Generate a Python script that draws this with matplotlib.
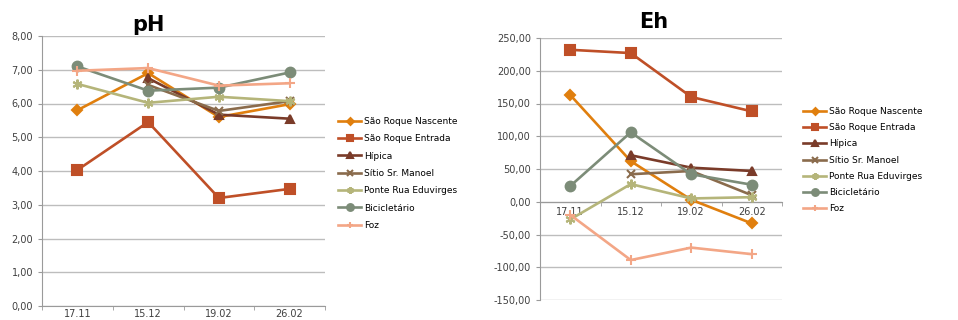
import numpy as np
import matplotlib
matplotlib.use("Agg")
import matplotlib.pyplot as plt
from matplotlib.ticker import FuncFormatter, FixedLocator

dates = ["17.11", "15.12", "19.02", "26.02"]
series = ["São Roque Nascente", "São Roque Entrada", "Hípica", "Sítio Sr. Manoel",
          "Ponte Rua Eduvirges", "Bicicletário", "Foz"]

ph_nascente = [5.80, 6.90, 5.60, 5.98]
ph_entrada = [4.03, 5.45, 3.20, 3.47]
ph_hipica = [np.nan, 6.75, 5.67, 5.55]
ph_sitio = [np.nan, 6.55, 5.78, 6.07]
ph_ponte = [6.58, 6.02, 6.20, 6.07]
ph_bici = [7.10, 6.38, 6.47, 6.92]
ph_foz = [6.97, 7.05, 6.53, 6.60]

eh_nascente = [163, 62, 3, -33]
eh_entrada = [232, 227, 160, 138]
eh_hipica = [np.nan, 71, 52, 47]
eh_sitio = [np.nan, 42, 47, 10]
eh_ponte = [-27, 27, 5, 7]
eh_bici = [24, 106, 42, 26]
eh_foz = [-20, -89, -70, -80]

ph_vals = [ph_nascente, ph_entrada, ph_hipica, ph_sitio, ph_ponte, ph_bici, ph_foz]
eh_vals = [eh_nascente, eh_entrada, eh_hipica, eh_sitio, eh_ponte, eh_bici, eh_foz]

colors = ["#E07F0E", "#BF4F27", "#7A3B29", "#8A6B4C", "#B5B57A", "#7C8C78", "#F3A686"]
markers = ["D", "s", "^", "x", (6, 2, 0), "o", "+"]
msizes = [5, 7, 6, 6, 7, 7, 7]

fig = plt.figure(figsize=(9.58, 3.2), dpi=100)
ax1 = fig.add_axes([42/958, 1-306/320, 283/958, 270/320])
ax2 = fig.add_axes([540/958, 1-300/320, 242/958, 262/320])

fmt = FuncFormatter(lambda v, p: f"{v:.2f}".replace(".", ","))
x = np.arange(len(dates))

for ax, vals in ((ax1, ph_vals), (ax2, eh_vals)):
    for name, v, c, m, ms in zip(series, vals, colors, markers, msizes):
        ax.plot(x, v, color=c, lw=1.9, marker=m, ms=ms, mew=1.5, label=name, zorder=3)
    ax.set_xlim(-0.5, 3.5)
    ax.yaxis.set_major_formatter(fmt)
    ax.grid(axis="y", color="#BDBDBD", lw=1)
    ax.set_axisbelow(True)
    for s in ("top", "right"):
        ax.spines[s].set_visible(False)
    ax.spines["left"].set_color("#9A9A9A")
    ax.spines["bottom"].set_color("#9A9A9A")
    ax.set_xticks(x)
    ax.set_xticklabels(dates)
    ax.xaxis.set_minor_locator(FixedLocator([-0.5, 0.5, 1.5, 2.5, 3.5]))
    ax.tick_params(axis="x", which="major", length=0, labelsize=7, colors="#404040", pad=2)
    ax.tick_params(axis="x", which="minor", length=3, color="#9A9A9A")
    ax.tick_params(axis="y", length=3, color="#9A9A9A", labelsize=7, labelcolor="#404040")

ax1.set_ylim(0, 8)
ax1.set_yticks(np.arange(0, 8.01, 1))
ax2.set_ylim(-150, 250)
ax2.set_yticks(np.arange(-150, 251, 50))
ax2.spines["bottom"].set_position(("data", 0))
ax2.tick_params(axis="x", which="major", pad=4)

fig.text(148/958, 1-25/320, "pH", fontsize=15, fontweight="bold", ha="center", va="center")
fig.text(654/958, 1-22/320, "Eh", fontsize=15, fontweight="bold", ha="center", va="center")

ax1.legend(loc="upper left", bbox_to_anchor=(338/958, 1-117/320), bbox_transform=fig.transFigure,
           frameon=False, fontsize=6.5, handlelength=2.6, handletextpad=0.3,
           labelspacing=0.92, markerscale=0.7, borderaxespad=0, borderpad=0)
ax2.legend(loc="upper left", bbox_to_anchor=(803/958, 1-107/320), bbox_transform=fig.transFigure,
           frameon=False, fontsize=6.5, handlelength=2.6, handletextpad=0.3,
           labelspacing=0.8, markerscale=0.7, borderaxespad=0, borderpad=0)

fig.savefig("out.png", dpi=100)
